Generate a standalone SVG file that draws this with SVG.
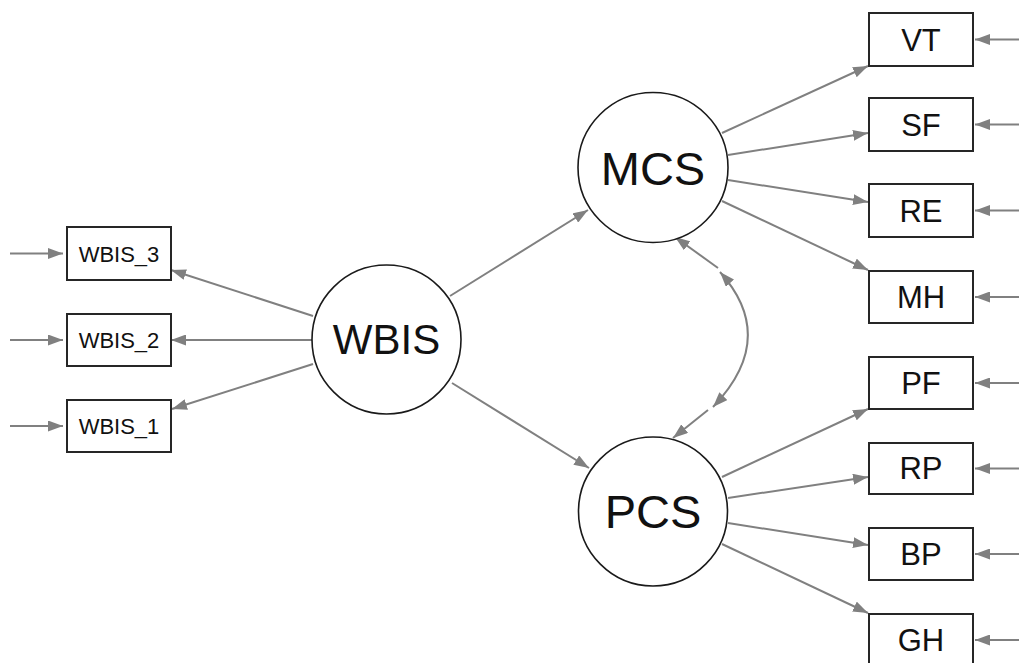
<svg xmlns="http://www.w3.org/2000/svg" width="1019" height="663" viewBox="0 0 1019 663">
<style>
.bg{fill:#ffffff}
.box{fill:#ffffff;stroke:#262626;stroke-width:2}
.lat{fill:#ffffff;stroke:#1a1a1a;stroke-width:1.6}
.e{fill:none;stroke:#808080;stroke-width:2;marker-end:url(#ah)}
.c{fill:none;stroke:#808080;stroke-width:2}
.t{font-family:"Liberation Sans",Arial,sans-serif;fill:#111111;text-anchor:middle}
.tb{font-size:31px}
.ts{font-size:22px}
.tl{font-size:47px}
</style>
<defs>
<marker id="ah" viewBox="0 0 15 11" refX="15" refY="5.5" markerWidth="15" markerHeight="11" markerUnits="userSpaceOnUse" orient="auto-start-reverse">
<path d="M0,0 L15,5.5 L0,11 Z" fill="#808080"/>
</marker>
</defs>
<rect class="bg" x="0" y="0" width="1019" height="663"/>
<g id="connectors">
<line class="e" x1="313" y1="316" x2="171" y2="270"/>
<line class="e" x1="312" y1="340" x2="171" y2="340"/>
<line class="e" x1="313" y1="364" x2="172" y2="409"/>
<line class="e" x1="10" y1="253.5" x2="63" y2="253.5"/>
<line class="e" x1="10" y1="340" x2="63" y2="340"/>
<line class="e" x1="10" y1="426" x2="63" y2="426"/>
<line class="e" x1="450" y1="296" x2="588" y2="210"/>
<line class="e" x1="452" y1="383" x2="589" y2="468"/>
<line class="e" x1="722" y1="133" x2="868" y2="66"/>
<line class="e" x1="728" y1="155" x2="868" y2="133"/>
<line class="e" x1="728" y1="180" x2="868" y2="202"/>
<line class="e" x1="722" y1="201" x2="868" y2="270"/>
<line class="e" x1="722" y1="477" x2="868" y2="409"/>
<line class="e" x1="728" y1="498" x2="868" y2="477"/>
<line class="e" x1="728" y1="523" x2="868" y2="545"/>
<line class="e" x1="722" y1="544" x2="868" y2="613"/>
<line class="e" x1="1019" y1="39.5" x2="975" y2="39.5"/>
<line class="e" x1="1019" y1="124.5" x2="975" y2="124.5"/>
<line class="e" x1="1019" y1="210.5" x2="975" y2="210.5"/>
<line class="e" x1="1019" y1="297" x2="975" y2="297"/>
<line class="e" x1="1019" y1="383" x2="975" y2="383"/>
<line class="e" x1="1019" y1="468.5" x2="975" y2="468.5"/>
<line class="e" x1="1019" y1="554" x2="975" y2="554"/>
<line class="e" x1="1019" y1="640" x2="975" y2="640"/>
<line class="e" x1="718" y1="268" x2="675" y2="237"/>
<path class="c" d="M720,272 Q779,338 713,407" marker-start="url(#ah)" marker-end="url(#ah)"/>
<line class="e" x1="708" y1="410" x2="673" y2="438"/>
</g>
<g id="WBIS"><circle class="lat" cx="386.5" cy="339.5" r="74.5"/><text class="t tl" x="386.5" y="354" style="font-size:42px">WBIS</text></g>
<g id="MCS"><circle class="lat" cx="653" cy="167.5" r="75"/><text class="t tl" x="653" y="185">MCS</text></g>
<g id="PCS"><circle class="lat" cx="653" cy="511.5" r="74.5"/><text class="t tl" x="653" y="528">PCS</text></g>
<g id="WBIS_3"><rect class="box" x="67" y="227" width="104" height="53"/><text class="t ts" x="119" y="262">WBIS_3</text></g>
<g id="WBIS_2"><rect class="box" x="67" y="314" width="104" height="52"/><text class="t ts" x="119" y="348">WBIS_2</text></g>
<g id="WBIS_1"><rect class="box" x="67" y="400" width="104" height="52"/><text class="t ts" x="119" y="434">WBIS_1</text></g>
<g id="VT"><rect class="box" x="869" y="13" width="104" height="53"/><text class="t tb" x="921" y="51">VT</text></g>
<g id="SF"><rect class="box" x="869" y="98" width="104" height="53"/><text class="t tb" x="921" y="136">SF</text></g>
<g id="RE"><rect class="box" x="869" y="184" width="104" height="53"/><text class="t tb" x="921" y="222">RE</text></g>
<g id="MH"><rect class="box" x="869" y="271" width="104" height="52"/><text class="t tb" x="921" y="308">MH</text></g>
<g id="PF"><rect class="box" x="869" y="357" width="104" height="52"/><text class="t tb" x="921" y="394">PF</text></g>
<g id="RP"><rect class="box" x="869" y="443" width="104" height="51"/><text class="t tb" x="921" y="479">RP</text></g>
<g id="BP"><rect class="box" x="869" y="528" width="104" height="52"/><text class="t tb" x="921" y="565">BP</text></g>
<g id="GH"><rect class="box" x="869" y="614" width="104" height="53"/><text class="t tb" x="921" y="651">GH</text></g>
</svg>
